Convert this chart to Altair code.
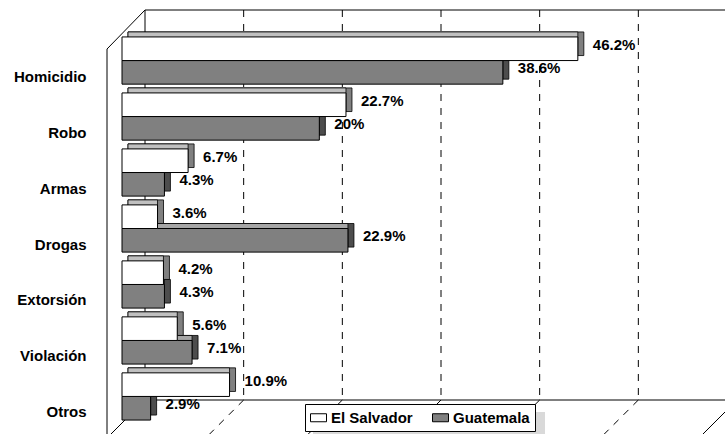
import altair as alt
import pandas as pd

categories = ["Homicidio", "Robo", "Armas", "Drogas", "Extorsión", "Violación", "Otros"]
series_names = ["El Salvador", "Guatemala"]
el_salvador = [46.2, 22.7, 6.7, 3.6, 4.2, 5.6, 10.9]
guatemala = [38.6, 20.0, 4.3, 22.9, 4.3, 7.1, 2.9]
grid_values = [10, 20, 30, 40, 50]
edge_values = [0, 60]

rows = []
for c, a, b in zip(categories, el_salvador, guatemala):
    rows.append({"cat": c, "series": series_names[0], "v": a, "z": 0, "label": f"{a:g}%"})
    rows.append({"cat": c, "series": series_names[1], "v": b, "z": 0, "label": f"{b:g}%"})
df = pd.DataFrame(rows)

FONT = "Liberation Sans"
BAR_H = 23.6
HALF = 11.8
DX, DY = 6, -5
BACK_DX = 23
FRONT_DX = -15
TOP_BACK, BOT_BACK = -22, 368
TOP_FRONT, BOT_FRONT = 17, 406

x_scale = alt.Scale(domain=[0, 60], nice=False, zero=True)
X = lambda f: alt.X(f, type="quantitative", scale=x_scale, axis=None)
y_enc = alt.Y(
    "cat:N",
    sort=categories,
    scale=alt.Scale(paddingInner=0, paddingOuter=0.01),
    axis=alt.Axis(
        title=None, domain=False, ticks=False, tickSize=0, grid=False,
        labelPadding=36, labelOffset=16, labelFont=FONT, labelFontSize=15,
        labelFontWeight="bold", labelColor="black",
    ),
)

# ---------- 3D frame ----------
grid_df = pd.DataFrame({"v": grid_values})
edge_df = pd.DataFrame({"v": edge_values})
zero_df = pd.DataFrame({"a": [edge_values[0]], "b": [edge_values[1]]})

back_grid = alt.Chart(grid_df).mark_rule(
    strokeDash=[7, 7], color="black", strokeWidth=1, xOffset=BACK_DX
).encode(x=X("v"), y=alt.value(TOP_BACK), y2=alt.value(BOT_BACK))

floor_dash = alt.Chart(grid_df).mark_rule(
    strokeDash=[7, 7], color="black", strokeWidth=1,
    xOffset=BACK_DX, x2Offset=FRONT_DX
).encode(x=X("v"), x2="v:Q", y=alt.value(BOT_BACK), y2=alt.value(BOT_FRONT))

floor_edge = alt.Chart(edge_df).mark_rule(
    color="black", strokeWidth=1, xOffset=BACK_DX, x2Offset=FRONT_DX
).encode(x=X("v"), x2="v:Q", y=alt.value(BOT_BACK), y2=alt.value(BOT_FRONT))

back_left = alt.Chart(zero_df).mark_rule(
    color="black", strokeWidth=1, xOffset=BACK_DX
).encode(x=X("a"), y=alt.value(TOP_BACK), y2=alt.value(BOT_BACK))

back_top = alt.Chart(zero_df).mark_rule(
    color="black", strokeWidth=1, xOffset=BACK_DX, x2Offset=BACK_DX
).encode(x=X("a"), x2="b:Q", y=alt.value(TOP_BACK))

back_bottom = alt.Chart(zero_df).mark_rule(
    color="black", strokeWidth=1, xOffset=BACK_DX, x2Offset=BACK_DX
).encode(x=X("a"), x2="b:Q", y=alt.value(BOT_BACK))

front_axis = alt.Chart(zero_df).mark_rule(
    color="black", strokeWidth=1, xOffset=FRONT_DX
).encode(x=X("a"), y=alt.value(TOP_FRONT), y2=alt.value(BOT_FRONT))

top_diag = alt.Chart(zero_df).mark_rule(
    color="black", strokeWidth=1, xOffset=BACK_DX, x2Offset=FRONT_DX
).encode(x=X("a"), x2="a:Q", y=alt.value(TOP_BACK), y2=alt.value(TOP_FRONT))

legend_shadow = alt.Chart(zero_df).mark_rect(color="#D9D9D9").encode(
    x=alt.value(191), x2=alt.value(423), y=alt.value(380), y2=alt.value(407)
)

# ---------- bars ----------
fill_scale = alt.Scale(domain=series_names, range=["#FFFFFF", "#808080"])
legend = alt.Legend(
    title=None, orient="none", legendX=183, legendY=372, direction="horizontal",
    strokeColor="black", fillColor="white", padding=5,
    symbolType="M-1,-0.5L1,-0.5L1,0.5L-1,0.5Z", symbolSize=256,
    symbolStrokeColor="black", symbolStrokeWidth=1,
    labelFont=FONT, labelFontSize=15, labelFontWeight="bold", labelColor="black",
    labelOffset=4, columnPadding=17,
)

face_colors = {
    "El Salvador": ("#C0C0C0", "#808080"),
    "Guatemala": ("#A6A6A6", "#4D4D4D"),
}


def series_layers(name, yoff):
    top_c, side_c = face_colors[name]
    base = alt.Chart(df).transform_filter(alt.datum.series == name)
    side = base.mark_bar(
        height=BAR_H, yOffset=yoff + DY, xOffset=DX, x2Offset=DX,
        color=side_c, stroke="black", strokeWidth=0.8,
    ).encode(x=X("v"), x2="z:Q", y=y_enc)
    top = base.mark_bar(
        height=BAR_H, yOffset=yoff + DY, x2Offset=DX,
        color=top_c, stroke="black", strokeWidth=0.8,
    ).encode(x=X("v"), x2="z:Q", y=y_enc)
    front = base.mark_bar(
        height=BAR_H, yOffset=yoff, stroke="black", strokeWidth=1,
    ).encode(
        x=X("v"), x2="z:Q", y=y_enc,
        fill=alt.Fill("series:N", scale=fill_scale, legend=legend),
    )
    text = base.mark_text(
        align="left", baseline="middle", dx=15, yOffset=yoff - 4,
        font=FONT, fontSize=15, fontWeight="bold", color="black",
    ).encode(x=X("v"), y=y_enc, text="label:N")
    return side, top, front, text


g_side, g_top, g_front, g_text = series_layers("Guatemala", HALF)
w_side, w_top, w_front, w_text = series_layers("El Salvador", -HALF)

chart = alt.layer(
    back_grid, floor_dash, floor_edge, back_left, back_top, back_bottom,
    front_axis, top_diag, legend_shadow,
    g_side, g_top, g_front, w_side, w_top, w_front, g_text, w_text,
).properties(
    width=592, height=393,
    autosize=alt.AutoSizeParams(type="none"),
    padding={"left": 122, "top": 32, "right": 11, "bottom": 9},
    background="white",
).configure_view(stroke=None)

chart.save("out.html", embed_options={"renderer": "svg", "actions": False})
